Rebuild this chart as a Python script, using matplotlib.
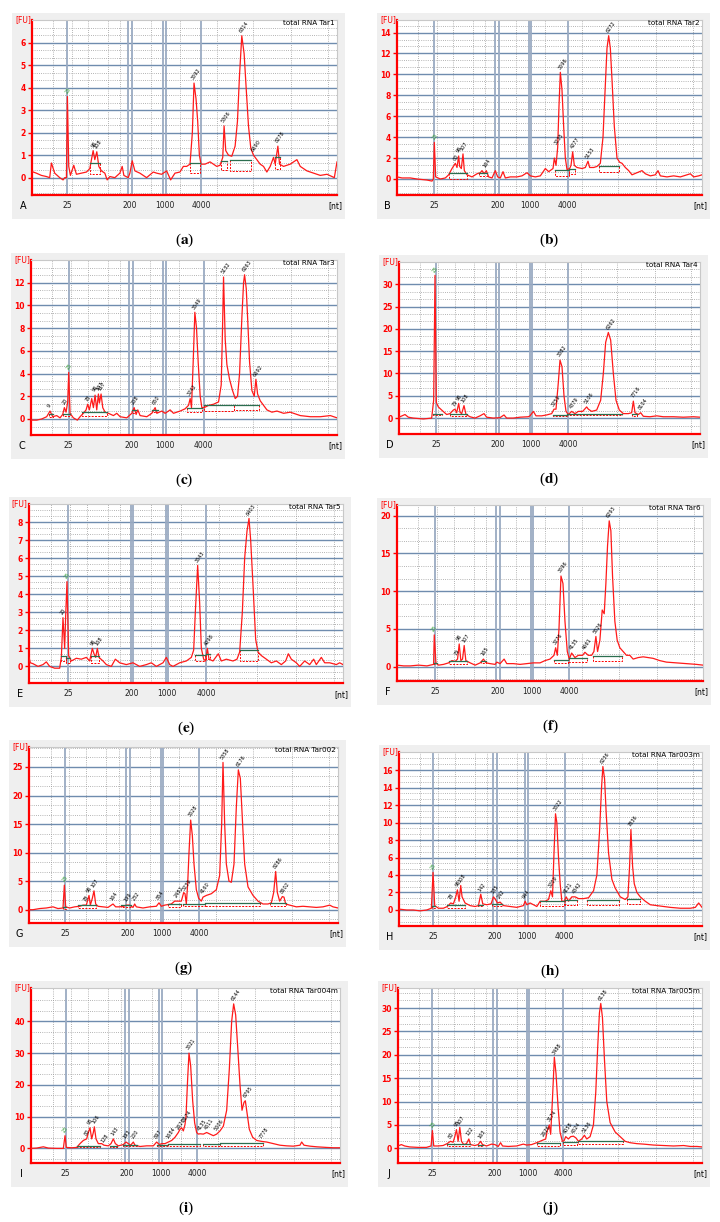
import numpy as np
import matplotlib
matplotlib.use("Agg")
import matplotlib.pyplot as plt
from matplotlib.patches import Rectangle

plt.rcParams['font.family'] = ['DejaVu Sans']
plt.rcParams['mathtext.fontset'] = 'stix'

W, H = 720, 1222

# ladder sizes shown on the x axis (same for every run)
ladder_labels = ["25", "200", "1000", "4000"]

# --- panel a : total RNA Tar1 ---
a_range = (97, 1010)
a_ylim = (-0.77, 7.0)
a_yticks = (1, 6)
a_ladder = [[203], [385, 397], [490, 497], [603]]
a_trace = [(97, 0.27), (110, 0.2), (125, 0.1), (140, 0.05), (150, 0.0), (155, 0.65), (165, 0.2), (180, 0.0),
           (190, -0.1), (195, 0.0), (200, 0.0), (203, 3.6), (207, 0.5), (212, 0.1), (222, 0.55), (230, 0.15),
           (245, 0.2), (260, 0.25), (270, 0.4), (280, 1.2), (285, 0.8), (291, 1.15), (297, 0.5), (305, 0.3),
           (315, 0.2), (322, -0.1), (330, 0.05), (345, 0.0), (360, 0.2), (367, 0.5), (372, 0.1), (385, 0.0),
           (390, 0.2), (397, 0.75), (405, 0.3), (420, 0.2), (440, 0.0), (460, 0.25), (470, 0.2), (485, 0.15),
           (500, 0.3), (512, -0.1), (525, 0.2), (540, 0.25), (550, 0.5), (560, 0.5), (570, 0.6), (577, 2.0),
           (582, 4.2), (588, 3.5), (593, 2.5), (598, 1.0), (603, 0.6), (615, 0.6), (630, 0.7), (650, 0.5),
           (660, 0.55), (668, 0.9), (672, 2.3), (677, 1.2), (685, 1.0), (695, 0.95), (705, 1.4), (712, 2.5),
           (718, 4.5), (725, 6.3), (732, 5.5), (738, 4.0), (745, 2.3), (752, 1.3), (760, 1.0), (770, 0.8),
           (780, 0.6), (790, 0.5), (800, 0.25), (810, 0.5), (820, 0.9), (825, 0.6), (833, 1.4), (838, 0.6),
           (850, 0.5), (870, 0.6), (890, 0.8), (900, 0.5), (920, 0.3), (940, 0.2), (960, 0.1), (980, 0.15),
           (995, 0.05), (1002, 0.0), (1010, 0.7)]
a_peaks = [(203, 3.6, "25"), (281, 1.2, "96"), (291, 1.15, "108"), (582, 4.2, "3592"), (672, 2.3, "5306"),
           (725, 6.3, "6314"), (760, 1.0, "6690"), (833, 1.4, "8278")]
a_bases = [(270, 300, 0.65, 0.15), (570, 600, 0.65, 0.2), (662, 680, 0.75, 0.35), (690, 752, 0.8, 0.3),
           (825, 840, 0.9, 0.4)]

# --- panel b : total RNA Tar2 ---
b_range = (110, 1025)
b_ylim = (-1.53, 15.2)
b_yticks = (2, 14)
b_ladder = [[222], [405, 417], [507, 513], [622]]
b_trace = [(110, 0.2), (125, 0.1), (150, 0.1), (170, 0.0), (200, -0.1), (215, -0.2), (219, 0.0), (222, 3.5),
           (226, 0.2), (240, 0.0), (255, 0.1), (265, 0.4), (275, 1.0), (285, 1.5), (290, 1.1), (295, 2.2),
           (298, 1.2), (303, 1.0), (308, 2.4), (312, 0.8), (320, 0.4), (335, 0.2), (350, 0.5), (360, 0.6),
           (365, 0.8), (372, 0.5), (378, 0.8), (385, 0.2), (395, 0.1), (405, 0.8), (412, 0.2), (420, 0.1),
           (428, 0.7), (435, 0.1), (450, 0.2), (470, 0.2), (485, 0.3), (500, 0.6), (510, 0.3), (525, 0.2),
           (540, 0.3), (555, 1.0), (565, 0.7), (578, 1.0), (582, 2.0), (587, 1.3), (592, 3.0), (596, 7.0),
           (600, 10.2), (605, 8.5), (610, 5.0), (615, 2.0), (620, 0.9), (628, 1.0), (632, 1.3), (637, 2.6),
           (642, 1.3), (650, 1.1), (665, 1.0), (675, 1.1), (683, 1.7), (688, 1.1), (700, 1.1), (710, 1.2),
           (720, 1.5), (728, 4.0), (735, 9.0), (740, 12.5), (745, 13.7), (750, 12.5), (755, 9.5), (762, 5.0),
           (770, 2.0), (778, 1.6), (785, 1.5), (795, 1.1), (805, 0.8), (815, 0.4), (830, 0.6), (845, 0.8),
           (855, 0.5), (870, 0.3), (885, 0.4), (893, 0.8), (900, 0.3), (920, 0.2), (940, 0.3), (960, 0.2),
           (990, 0.5), (1000, 0.2), (1015, 0.3), (1025, 0.4)]
b_peaks = [(222, 3.5, "25"), (285, 1.5, "80"), (296, 2.2, "96"), (308, 2.4, "107"), (375, 0.8, "164"),
           (590, 3.0, "3235"), (600, 10.2, "3596"), (637, 2.6, "4277"), (683, 1.7, "5153"), (745, 13.7, "6272")]
b_bases = [(265, 320, 0.55, 0.0), (355, 380, 0.6, 0.3), (585, 625, 0.9, 0.3), (625, 645, 1.0, 0.5),
           (715, 775, 1.2, 0.7)]

# --- panel c : total RNA Tar3 ---
c_range = (93, 1010)
c_ylim = (-1.41, 14.0)
c_yticks = (2, 12)
c_ladder = [[206], [388, 400], [490, 497], [610]]
c_trace = [(93, -0.1), (110, -0.1), (125, 0.0), (140, 0.2), (150, 0.7), (158, 0.2), (170, 0.3), (180, 0.1),
           (188, 0.4), (193, 1.0), (198, 0.6), (203, 1.5), (206, 4.1), (210, 0.5), (220, 0.1), (232, -0.1),
           (240, 0.2), (250, 0.5), (258, 0.8), (263, 1.3), (268, 0.8), (275, 1.8), (280, 1.0), (285, 2.1),
           (290, 0.8), (295, 2.2), (298, 1.4), (303, 2.2), (308, 1.0), (315, 0.6), (325, 0.5), (340, 0.3),
           (350, 0.5), (360, 0.2), (380, 0.1), (395, 0.5), (402, 1.0), (408, 0.4), (413, 0.8), (420, 0.3),
           (440, 0.2), (455, 0.5), (465, 1.0), (470, 0.5), (485, 0.7), (495, 0.5), (510, 0.8), (520, 0.5),
           (540, 0.7), (555, 0.9), (565, 1.2), (570, 1.8), (574, 1.0), (579, 5.0), (584, 9.4), (589, 8.0),
           (594, 5.0), (600, 2.0), (605, 1.0), (612, 1.0), (625, 1.2), (640, 1.3), (655, 1.5), (663, 3.0),
           (667, 8.0), (670, 12.5), (675, 7.0), (680, 4.8), (688, 3.5), (697, 2.5), (705, 1.8), (712, 2.0),
           (718, 4.0), (725, 9.0), (730, 12.0), (733, 12.7), (738, 11.5), (742, 9.0), (748, 5.0), (755, 2.5),
           (762, 2.0), (767, 3.5), (772, 2.2), (780, 1.6), (790, 1.2), (800, 0.8), (815, 0.6), (830, 0.7),
           (850, 0.5), (870, 0.6), (900, 0.3), (930, 0.2), (960, 0.2), (990, 0.3), (1010, 0.1)]
c_peaks = [(150, 0.7, "9"), (193, 1.0, "20"), (206, 4.1, "25"), (263, 1.3, "78"), (285, 2.1, "96"),
           (295, 2.2, "107"), (303, 2.2, "117"), (402, 1.0, "208"), (465, 1.0, "650"), (570, 1.8, "3242"),
           (584, 9.4, "3549"), (670, 12.5, "5132"), (733, 12.7, "6263"), (767, 3.5, "6692")]
c_bases = [(148, 158, 0.4, 0.2), (190, 210, 0.45, 0.3), (245, 320, 0.6, 0.3), (395, 408, 0.75, 0.5),
           (455, 475, 0.8, 0.6), (560, 605, 1.0, 0.6), (610, 700, 1.2, 0.7), (700, 775, 1.25, 0.8)]

# --- panel d : total RNA Tar4 ---
d_range = (117, 1020)
d_ylim = (-3.57, 35.0)
d_yticks = (5, 30)
d_ladder = [[228], [407, 418], [510, 517], [625]]
d_trace = [(117, 0.2), (135, 0.8), (145, 0.2), (160, 0.0), (190, -0.2), (215, 0.0), (221, 4.0), (225, 32.0),
           (229, 3.5), (235, 2.5), (245, 1.8), (260, 0.8), (270, 1.0), (280, 1.8), (285, 2.0), (290, 1.2),
           (296, 3.3), (300, 1.3), (305, 1.0), (312, 2.8), (318, 0.8), (330, 0.3), (345, 0.0), (360, 0.5),
           (372, 1.0), (380, 0.2), (400, 0.0), (420, 0.1), (432, 0.7), (440, 0.0), (460, 0.0), (480, 0.2),
           (505, 0.3), (510, 0.5), (520, 1.5), (528, 0.5), (545, 0.5), (560, 0.7), (575, 1.0), (582, 2.0),
           (588, 2.0), (595, 8.0), (600, 13.0), (606, 11.5), (612, 5.0), (618, 1.5), (625, 0.8), (635, 1.5),
           (645, 1.0), (655, 1.5), (668, 1.5), (680, 2.5), (685, 2.0), (695, 1.5), (710, 1.8), (722, 4.0),
           (730, 10.0), (737, 17.0), (745, 19.2), (752, 17.5), (760, 10.0), (768, 4.0), (778, 1.8), (790, 1.0),
           (805, 1.0), (815, 1.2), (820, 3.8), (825, 1.2), (835, 0.8), (842, 1.2), (850, 0.4), (870, 0.3),
           (890, 0.5), (910, 0.3), (940, 0.3), (970, 0.2), (1000, 0.3), (1020, 0.2)]
d_peaks = [(225, 32.0, "25"), (285, 2.0, "79"), (296, 3.3, "96"), (312, 2.8, "108"), (582, 2.0, "3259"),
           (600, 13.0, "3582"), (635, 1.5, "4379"), (680, 2.5, "5106"), (745, 19.2, "6262"),
           (820, 3.8, "7716"), (842, 1.2, "8104")]
d_bases = [(220, 245, 1.0, 0.8), (270, 320, 1.0, 0.5), (580, 620, 0.8, 0.5), (620, 785, 1.0, 0.6),
           (815, 830, 1.0, 0.5)]

# --- panel e : total RNA Tar5 ---
e_range = (88, 1030)
e_ylim = (-0.92, 9.0)
e_yticks = (1, 8)
e_ladder = [[205], [393, 400], [498, 505], [620]]
e_trace = [(88, 0.5), (92, 0.2), (100, 0.15), (115, 0.0), (130, 0.1), (140, 0.25), (150, 0.0), (165, -0.1),
           (180, -0.1), (185, 0.5), (190, 2.7), (195, 1.0), (198, 2.8), (202, 4.7), (207, 0.6), (215, 0.3),
           (230, 0.45), (245, 0.4), (260, 0.5), (270, 0.3), (278, 1.0), (283, 0.7), (288, 0.5), (293, 1.0),
           (298, 0.5), (310, 0.3), (320, 0.1), (335, 0.0), (347, 0.4), (360, 0.2), (380, 0.1), (400, 0.2),
           (420, 0.0), (440, 0.1), (455, 0.2), (470, 0.0), (490, 0.2), (500, 0.5), (510, 0.1), (520, 0.0),
           (540, 0.2), (560, 0.3), (575, 0.5), (582, 0.9), (587, 3.0), (594, 5.6), (600, 3.5), (605, 1.0),
           (612, 0.4), (618, 0.3), (623, 1.0), (628, 0.4), (640, 0.3), (656, 0.7), (665, 0.3), (680, 0.4),
           (700, 0.3), (712, 0.4), (720, 0.8), (728, 3.0), (735, 6.0), (742, 7.5), (748, 8.2), (753, 7.0),
           (760, 4.5), (768, 1.5), (775, 0.8), (785, 0.6), (800, 0.4), (815, 0.2), (830, 0.3), (845, 0.1),
           (858, 0.3), (866, 0.7), (875, 0.4), (890, 0.2), (900, 0.0), (915, 0.3), (930, 0.1), (942, 0.4),
           (950, 0.1), (965, 0.5), (975, 0.2), (990, 0.2), (1010, 0.1), (1020, 0.2), (1030, 0.1)]
e_peaks = [(190, 2.7, "20"), (202, 4.7, "25"), (278, 1.0, "96"), (293, 1.0, "108"), (594, 5.6, "3543"),
           (623, 1.0, "4098"), (748, 8.2, "6403")]
e_bases = [(185, 200, 0.55, 0.3), (200, 210, 0.45, 0.2), (275, 298, 0.6, 0.2), (585, 615, 0.65, 0.3),
           (618, 630, 0.7, 0.4), (720, 775, 0.9, 0.3)]

# --- panel f : total RNA Tar6 ---
f_range = (110, 1030)
f_ylim = (-1.9, 21.4)
f_yticks = (5, 20)
f_ladder = [[225], [407, 420], [512, 518], [627]]
f_trace = [(110, 0.2), (130, 0.1), (150, 0.1), (175, 0.2), (200, 0.1), (220, 0.3), (222, 4.2), (227, 0.5),
           (235, 0.2), (250, 0.3), (265, 0.5), (275, 0.8), (285, 0.7), (292, 1.0), (297, 3.0), (302, 0.8),
           (307, 1.0), (312, 2.8), (317, 0.8), (330, 0.5), (345, 0.2), (360, 0.5), (370, 1.0), (378, 0.5),
           (390, 0.4), (405, 0.3), (410, 0.6), (420, 0.4), (432, 1.0), (440, 0.4), (460, 0.4), (480, 0.3),
           (500, 0.4), (520, 0.5), (540, 0.5), (555, 0.8), (570, 1.0), (582, 1.5), (587, 2.5), (592, 1.5),
           (597, 5.0), (603, 12.0), (609, 11.0), (615, 6.0), (622, 2.0), (628, 1.0), (635, 1.8), (645, 1.2),
           (655, 1.5), (668, 1.5), (675, 1.9), (685, 1.5), (695, 1.5), (702, 2.0), (708, 4.0), (713, 2.0),
           (720, 3.5), (727, 7.5), (733, 7.0), (738, 11.0), (743, 16.0), (748, 19.3), (753, 18.0), (758, 12.0),
           (765, 6.0), (772, 3.5), (780, 2.5), (790, 2.0), (800, 1.5), (810, 1.5), (820, 1.0), (835, 1.2),
           (850, 1.3), (865, 1.2), (880, 1.1), (900, 0.8), (920, 0.6), (950, 0.5), (980, 0.4), (1010, 0.3),
           (1030, 0.2)]
f_peaks = [(222, 4.2, "25"), (290, 1.0, "79"), (297, 3.0, "96"), (312, 2.8, "107"), (370, 1.0, "165"),
           (587, 2.5, "3276"), (603, 12.0, "3596"), (635, 1.8, "4135"), (675, 1.9, "4661"),
           (708, 4.0, "5526"), (748, 19.3, "6293")]
f_bases = [(220, 230, 0.5, 0.3), (265, 320, 0.7, 0.3), (362, 378, 0.7, 0.5), (582, 625, 0.9, 0.5),
           (628, 680, 1.2, 0.6), (700, 785, 1.4, 0.7)]

# --- panel g : total RNA Tar002 ---
g_range = (88, 1015)
g_ylim = (-2.33, 28.5)
g_yticks = (5, 25)
g_ladder = [[197], [380, 390], [483, 490], [598]]
g_trace = [(88, 0.0), (100, 0.0), (120, 0.2), (140, 0.3), (160, 0.5), (175, 0.2), (190, 0.3), (194, 4.3),
           (198, 0.5), (210, 0.3), (225, 0.5), (240, 0.6), (250, 0.8), (260, 0.8), (268, 2.5), (272, 0.8),
           (278, 2.0), (283, 3.3), (288, 1.0), (295, 0.6), (310, 0.5), (325, 0.4), (340, 1.0), (348, 0.5),
           (360, 0.5), (372, 0.6), (380, 0.8), (390, 0.8), (400, 0.4), (405, 1.0), (410, 0.5), (430, 0.3),
           (450, 0.5), (470, 0.6), (478, 1.2), (485, 0.6), (495, 0.8), (505, 0.9), (515, 1.0), (525, 1.5),
           (535, 1.5), (545, 1.5), (552, 3.0), (556, 2.8), (560, 1.0), (564, 4.5), (568, 10.0), (573, 15.7),
           (578, 13.0), (583, 8.0), (590, 3.5), (597, 2.0), (605, 1.5), (610, 2.2), (620, 2.5), (635, 2.8),
           (650, 3.5), (660, 6.0), (666, 15.0), (670, 25.8), (675, 15.0), (680, 8.0), (688, 5.0), (695, 4.8),
           (703, 8.0), (710, 18.0), (716, 24.5), (722, 23.0), (728, 16.0), (735, 8.0), (745, 4.0), (760, 2.5),
           (775, 1.5), (790, 1.0), (805, 1.0), (815, 1.2), (822, 3.0), (828, 6.7), (833, 3.0), (840, 1.5),
           (848, 2.3), (853, 2.2), (858, 1.0), (870, 0.8), (890, 0.5), (910, 0.6), (930, 0.5), (950, 0.4),
           (970, 0.5), (990, 0.8), (1000, 0.5), (1015, 0.3)]
g_peaks = [(194, 4.3, "25"), (258, 0.8, "78"), (268, 2.5, "96"), (283, 3.3, "107"), (340, 1.0, "164"),
           (380, 0.8, "199"), (405, 1.0, "232"), (478, 1.2, "854"), (530, 1.5, "2482"), (556, 2.8, "3239"),
           (573, 15.7, "3528"), (610, 2.2, "4160"), (670, 25.8, "5358"), (716, 24.5, "6176"),
           (828, 6.7, "8286"), (850, 2.3, "8602")]
g_bases = [(190, 200, 0.4, 0.2), (235, 290, 0.8, 0.3), (365, 395, 0.9, 0.5), (505, 545, 1.0, 0.5),
           (550, 615, 1.0, 0.6), (615, 780, 1.1, 0.7), (810, 860, 1.2, 0.7)]

# --- panel h : total RNA Tar003m ---
h_range = (117, 1025)
h_ylim = (-1.83, 18.06)
h_yticks = (2, 16)
h_ladder = [[220], [398, 412], [495, 505], [613]]
h_trace = [(117, 0.1), (140, 0.0), (160, 0.0), (180, -0.1), (200, 0.0), (214, 0.2), (219, 4.3), (224, 0.5),
           (235, 0.2), (250, 0.2), (262, 0.4), (272, 0.8), (280, 0.7), (287, 1.5), (292, 2.3), (297, 1.0),
           (302, 2.8), (306, 1.5), (315, 0.8), (330, 0.5), (345, 0.4), (355, 0.5), (362, 1.8), (368, 0.7),
           (380, 0.6), (393, 0.7), (400, 1.5), (406, 1.2), (412, 0.8), (420, 0.9), (430, 0.5), (450, 0.4),
           (470, 0.3), (490, 0.5), (495, 1.0), (500, 0.6), (510, 0.8), (520, 0.6), (530, 0.4), (540, 1.0),
           (555, 1.0), (565, 1.2), (572, 2.2), (577, 1.5), (581, 6.0), (586, 11.0), (590, 10.0), (595, 6.0),
           (600, 3.0), (605, 1.0), (612, 1.0), (618, 1.5), (625, 1.0), (635, 1.5), (645, 1.5), (655, 1.3),
           (670, 1.3), (685, 1.4), (700, 2.2), (710, 4.0), (718, 9.0), (724, 14.0), (728, 16.4), (733, 15.0),
           (738, 11.0), (745, 6.5), (755, 3.5), (765, 2.5), (780, 1.5), (795, 1.2), (803, 1.5), (808, 5.0),
           (812, 9.2), (817, 5.0), (822, 3.0), (830, 2.0), (840, 1.5), (855, 1.0), (870, 0.6), (890, 0.5),
           (910, 0.4), (930, 0.3), (960, 0.2), (990, 0.2), (1005, 0.3), (1015, 0.8), (1025, 0.3)]
h_peaks = [(219, 4.3, "25"), (272, 0.8, "78"), (292, 2.3, "96"), (302, 2.8, "108"), (362, 1.8, "142"),
           (400, 1.5, "185"), (420, 0.9, "242"), (495, 1.0, "944"), (572, 2.2, "3209"), (586, 11.0, "3522"),
           (618, 1.5, "4121"), (645, 1.5, "4342"), (728, 16.4, "6236"), (812, 9.2, "7836")]
h_bases = [(215, 225, 0.4, 0.2), (262, 315, 0.6, 0.2), (355, 370, 0.6, 0.4), (395, 425, 0.7, 0.4),
           (540, 610, 1.0, 0.5), (615, 650, 1.1, 0.6), (680, 775, 1.1, 0.6), (800, 838, 1.2, 0.7)]

# --- panel i : total RNA Tar004m ---
i_range = (93, 1020)
i_ylim = (-4.6, 50.5)
i_yticks = (10, 40)
i_ladder = [[197], [375, 388], [478, 487], [592]]
i_trace = [(93, 0.0), (110, 0.1), (130, 0.5), (145, 0.1), (170, 0.0), (190, 0.0), (195, 4.0), (199, 0.3),
           (215, 0.2), (230, 0.3), (240, 1.5), (250, 2.5), (260, 3.0), (265, 5.0), (270, 6.5), (275, 3.0),
           (280, 5.0), (283, 6.8), (288, 3.0), (295, 1.5), (305, 1.5), (312, 1.0), (325, 0.8), (333, 1.5),
           (340, 3.0), (346, 1.5), (355, 0.8), (370, 1.2), (378, 2.0), (385, 1.5), (392, 1.0), (400, 2.0),
           (405, 1.0), (420, 0.6), (440, 0.8), (460, 0.8), (470, 2.0), (478, 1.2), (485, 1.5), (495, 1.5),
           (505, 2.0), (515, 2.5), (525, 3.5), (535, 5.0), (540, 6.0), (545, 6.5), (550, 5.5), (555, 7.5),
           (558, 10.0), (563, 22.0), (567, 30.0), (572, 26.0), (578, 15.0), (584, 8.0), (590, 5.0), (595, 4.5),
           (600, 4.6), (610, 4.5), (620, 5.0), (630, 4.5), (640, 4.0), (650, 4.5), (660, 5.5), (670, 7.0),
           (680, 12.0), (688, 25.0), (695, 40.0), (701, 45.5), (707, 42.0), (713, 32.0), (720, 20.0),
           (726, 12.0), (732, 14.5), (736, 15.0), (740, 12.0), (748, 6.0), (758, 3.5), (770, 2.5), (785, 2.2),
           (800, 2.0), (820, 1.5), (840, 1.0), (860, 0.8), (880, 0.7), (900, 1.0), (905, 2.0), (912, 1.0),
           (930, 0.7), (950, 0.5), (980, 0.3), (1000, 0.2), (1020, 0.2)]
i_peaks = [(195, 4.0, "25"), (260, 3.0, "80"), (270, 6.5, "95"), (283, 6.8, "106"), (312, 1.0, "128"),
           (340, 3.0, "143"), (378, 2.0, "193"), (400, 2.0, "220"), (470, 2.0, "897"), (505, 2.0, "1684"),
           (535, 5.0, "2626"), (555, 7.5, "3174"), (567, 30.0, "3521"), (600, 4.6, "4135"),
           (620, 5.0, "4511"), (650, 4.5, "5006"), (701, 45.5, "6144"), (736, 15.0, "6795"),
           (785, 2.2, "7778")]
i_bases = [(230, 300, 0.8, 0.3), (330, 350, 0.9, 0.5), (370, 410, 1.0, 0.6), (470, 500, 1.1, 0.6),
           (505, 600, 1.3, 0.7), (610, 660, 1.5, 0.8), (660, 790, 1.6, 0.8)]

# --- panel j : total RNA Tar005m ---
j_range = (115, 1025)
j_ylim = (-3.14, 34.3)
j_yticks = (5, 30)
j_ladder = [[218], [398, 410], [500, 507], [610]]
j_trace = [(115, 0.5), (125, 0.8), (135, 0.5), (150, 0.3), (175, 0.2), (200, 0.2), (214, 0.5), (218, 3.8),
           (222, 0.5), (235, 0.5), (250, 0.6), (262, 1.0), (272, 1.5), (280, 1.3), (285, 2.5), (290, 4.0),
           (295, 1.5), (300, 4.5), (305, 1.5), (312, 0.8), (320, 1.0), (327, 2.0), (332, 0.8), (345, 0.6),
           (355, 0.8), (362, 1.5), (368, 0.8), (380, 0.5), (395, 0.9), (405, 0.8), (415, 0.4), (422, 1.2),
           (428, 0.5), (445, 0.4), (470, 0.5), (490, 0.9), (500, 0.7), (515, 0.8), (530, 1.2), (540, 1.5),
           (550, 1.8), (557, 2.0), (562, 3.8), (568, 5.0), (572, 3.0), (577, 10.0), (583, 19.5), (588, 16.0),
           (594, 9.0), (600, 3.5), (607, 1.5), (612, 1.6), (617, 2.5), (625, 2.0), (632, 2.5), (640, 2.6),
           (648, 2.2), (655, 1.5), (665, 2.0), (673, 2.8), (680, 2.0), (690, 2.5), (700, 5.0), (707, 12.0),
           (713, 22.0), (718, 29.0), (722, 31.0), (727, 28.0), (733, 19.0), (740, 10.0), (750, 5.5),
           (765, 3.5), (780, 2.5), (795, 1.5), (810, 1.2), (830, 1.0), (850, 0.9), (880, 0.7), (910, 0.6),
           (940, 0.5), (970, 0.6), (990, 0.4), (1010, 0.4), (1025, 0.3)]
j_peaks = [(218, 3.8, "25"), (272, 1.5, "80"), (290, 4.0, "95"), (300, 4.5, "107"), (327, 2.0, "122"),
           (362, 1.5, "163"), (550, 1.8, "2626"), (568, 5.0, "3174"), (583, 19.5, "3488"), (617, 2.5, "4058"),
           (640, 2.6, "4524"), (673, 2.8, "5136"), (722, 31.0, "6138")]
j_bases = [(262, 330, 0.9, 0.4), (355, 370, 0.8, 0.5), (530, 600, 1.2, 0.6), (610, 650, 1.4, 0.8),
           (655, 790, 1.6, 0.9)]

# dotted vertical grid positions (fraction of the run width)
grid_frac = [0.07, 0.13, 0.185, 0.25, 0.29, 0.39, 0.485, 0.605, 0.725, 0.85, 0.97]

panels = [
    ("a", "A", "total RNA Tar1", (32, 20, 337, 195), a_range, a_ylim, a_yticks, a_ladder, a_trace, a_peaks, a_bases),
    ("b", "B", "total RNA Tar2", (397, 20, 702, 195), b_range, b_ylim, b_yticks, b_ladder, b_trace, b_peaks, b_bases),
    ("c", "C", "total RNA Tar3", (31, 260, 337, 435), c_range, c_ylim, c_yticks, c_ladder, c_trace, c_peaks, c_bases),
    ("d", "D", "total RNA Tar4", (399, 262, 700, 434), d_range, d_ylim, d_yticks, d_ladder, d_trace, d_peaks, d_bases),
    ("e", "E", "total RNA Tar5", (29, 504, 343, 683), e_range, e_ylim, e_yticks, e_ladder, e_trace, e_peaks, e_bases),
    ("f", "F", "total RNA Tar6", (397, 505, 703, 681), f_range, f_ylim, f_yticks, f_ladder, f_trace, f_peaks, f_bases),
    ("g", "G", "total RNA Tar002", (29, 747, 338, 923), g_range, g_ylim, g_yticks, g_ladder, g_trace, g_peaks, g_bases),
    ("h", "H", "total RNA Tar003m", (399, 752, 702, 926), h_range, h_ylim, h_yticks, h_ladder, h_trace, h_peaks, h_bases),
    ("i", "I", "total RNA Tar004m", (31, 988, 340, 1163), i_range, i_ylim, i_yticks, i_ladder, i_trace, i_peaks, i_bases),
    ("j", "J", "total RNA Tar005m", (398, 988, 702, 1163), j_range, j_ylim, j_yticks, j_ladder, j_trace, j_peaks, j_bases),
]

fig = plt.figure(figsize=(W / 100, H / 100), dpi=100)
fig.patch.set_facecolor("white")


def draw_panel(cap, letter, title, rect, xr, ylim, yticks, ladder, trace, peaks, bases):
    l, t, r, b = rect
    ystep, ytop = yticks
    # grey frame of the exported image
    fig.add_artist(Rectangle(((l - 20) / W, 1 - (b + 24) / H), (r - l + 28) / W, (b - t + 31) / H,
                             transform=fig.transFigure, facecolor="#efefef", edgecolor="none", zorder=0))
    ax = fig.add_axes([l / W, 1 - b / H, (r - l) / W, (b - t) / H])
    ax.set_facecolor("white")
    ax.set_xlim(xr)
    ax.set_ylim(ylim)

    # dotted grid
    for fr in grid_frac:
        ax.axvline(xr[0] + fr * (xr[1] - xr[0]), color="#9c9c9c", lw=0.6, ls=(0, (1, 1.6)), zorder=1)
    minor = ystep / 3.0
    k0 = int(np.floor(ylim[0] / minor))
    k1 = int(np.ceil(ylim[1] / minor))
    for k in range(k0, k1 + 1):
        if k % 3 != 0:
            ax.axhline(k * minor, color="#9c9c9c", lw=0.6, ls=(0, (1, 1.6)), zorder=1)
    majors = np.arange(0, ytop + ystep * 0.5, ystep)
    for yv in majors:
        ax.axhline(yv, color="#6f8cae", lw=1.0, zorder=2)

    # ladder lines
    for grp in ladder:
        for xv in grp:
            ax.axvline(xv, color="#9aaac2", lw=1.3, zorder=2)

    # baselines of the integrated peaks
    for x0, x1, ytop_b, ylow in bases:
        ax.plot([x0, x0, x1, x1], [ytop_b, ylow, ylow, ytop_b], color="red", lw=0.7, ls=(0, (2, 1.4)), zorder=4)
        ax.plot([x0, x1], [ytop_b, ytop_b], color="#2b6e4f", lw=0.9, zorder=6)

    xs = [p[0] for p in trace]
    ys = [p[1] for p in trace]
    ax.plot(xs, ys, color="#ff1a1a", lw=0.9, zorder=5)

    for xv, yv, txt in peaks:
        col = "#2a9d2a" if txt == "25" else "black"
        ax.annotate(txt, (xv, yv), xytext=(0.5, 1.5), textcoords="offset points", fontsize=3.6,
                    rotation=55, rotation_mode="anchor", ha="left", va="bottom", color=col, zorder=7)

    # axes styling
    for s in ["top", "right"]:
        ax.spines[s].set_color("#c8c8c8")
        ax.spines[s].set_linewidth(0.8)
    for s in ["left", "bottom"]:
        ax.spines[s].set_color("red")
        ax.spines[s].set_linewidth(1.6)
    ax.set_yticks(majors)
    ax.set_yticklabels([f"{int(v)}" for v in majors])
    ax.tick_params(axis="y", colors="red", labelsize=5.5, length=3, width=1.0, pad=1.5)
    for lab in ax.get_yticklabels():
        lab.set_fontweight("bold")
    ax.set_xticks([np.mean(g) for g in ladder])
    ax.set_xticklabels(ladder_labels)
    ax.tick_params(axis="x", length=0, labelsize=5.5, pad=4, labelcolor="#222222")

    ax.text(-0.004, 1.0, "[FU]", transform=ax.transAxes, ha="right", va="center", fontsize=5.5, color="red")
    ax.text(0.992, 0.985, title, transform=ax.transAxes, ha="right", va="center", fontsize=5.2, color="black")
    ax.text(-0.03, -0.063, letter, transform=ax.transAxes, ha="center", va="center", fontsize=7, color="black")
    ax.text(0.995, -0.063, "[nt]", transform=ax.transAxes, ha="center", va="center", fontsize=5.5, color="black")

    fig.text((l + r) / 2 / W, 1 - (b + 45) / H, r"(${\bf " + cap + r"}$)", ha="center", va="center",
             fontsize=11, family="Liberation Serif")


for p in panels:
    draw_panel(*p)

fig.savefig("out.png", dpi=100)
